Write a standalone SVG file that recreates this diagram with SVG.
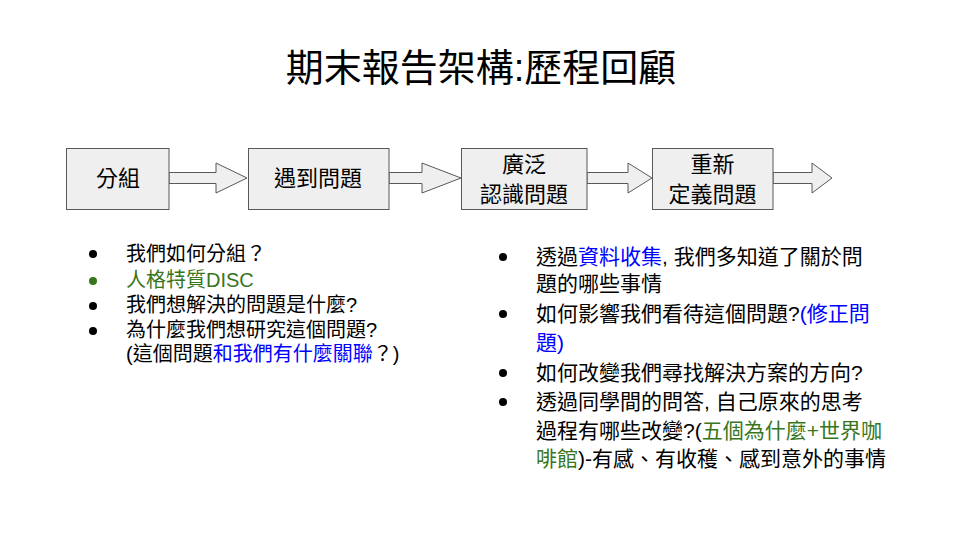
<svg xmlns="http://www.w3.org/2000/svg" width="960" height="540" viewBox="0 0 960 540">
<style>
text{font-family:"Liberation Sans","Noto Sans CJK TC",sans-serif;fill:#000}
.box{fill:#efefef;stroke:#595959;stroke-width:1}
.arr{fill:#efefef;stroke:#595959;stroke-width:1;stroke-linejoin:miter}
.bt{font-size:22px;text-anchor:middle}
.l{font-size:20px}
.r{font-size:21px}
.g{fill:#38761d}
.b{fill:#0000ff}
.dot{fill:#000}
</style>
<rect width="960" height="540" fill="#fff"/>
<text x="481" y="81" font-size="38" text-anchor="middle">期末報告架構:歷程回顧</text>
<g id="connectors">
<polygon class="arr" points="169,172.5 216,172.5 216,163 247,178 216,193 216,183.5 169,183.5"/>
<polygon class="arr" points="389,172.5 422,172.5 422,163 461,178 422,193 422,183.5 389,183.5"/>
<polygon class="arr" points="587,172.5 628,172.5 628,163 652,178 628,193 628,183.5 587,183.5"/>
<polygon class="arr" points="773,172.5 812,172.5 812,163 832,178 812,193 812,183.5 773,183.5"/>
</g>
<g id="n1"><rect class="box" x="66.5" y="148.5" width="102.5" height="61"/><text class="bt" x="118" y="186">分組</text></g>
<g id="n2"><rect class="box" x="248.5" y="148.5" width="140.5" height="61"/><text class="bt" x="318" y="186">遇到問題</text></g>
<g id="n3"><rect class="box" x="461.5" y="148.5" width="125.5" height="61"/><text class="bt" x="524" y="172">廣泛</text><text class="bt" x="524" y="202">認識問題</text></g>
<g id="n4"><rect class="box" x="652.5" y="148.5" width="120.5" height="61"/><text class="bt" x="712.5" y="172">重新</text><text class="bt" x="712.5" y="202">定義問題</text></g>
<g id="left">
<circle class="dot" cx="93" cy="254" r="4"/>
<text class="l" x="126" y="261">我們如何分組？</text>
<circle cx="93" cy="281" r="4" fill="#38761d"/>
<text class="l g" x="126" y="287">人格特質DISC</text>
<circle class="dot" cx="93" cy="306" r="4"/>
<text class="l" x="126" y="312">我們想解決的問題是什麼?</text>
<circle class="dot" cx="93" cy="331" r="4"/>
<text class="l" x="126" y="337">為什麼我們想研究這個問題?</text>
<text class="l" x="126" y="361">(這個問題<tspan class="b">和我們有什麼關聯</tspan>？)</text>
</g>
<g id="right">
<circle class="dot" cx="503" cy="257" r="4"/>
<text class="r" x="536" y="264">透過<tspan class="b">資料收集</tspan>, 我們多知道了關於問</text>
<text class="r" x="536" y="291">題的哪些事情</text>
<circle class="dot" cx="503" cy="314" r="4"/>
<text class="r" x="536" y="321">如何影響我們看待這個問題?<tspan class="b">(修正問</tspan></text>
<text class="r b" x="536" y="350">題)</text>
<circle class="dot" cx="503" cy="373" r="4"/>
<text class="r" x="536" y="380">如何改變我們尋找解決方案的方向?</text>
<circle class="dot" cx="503" cy="402" r="4"/>
<text class="r" x="536" y="409">透過同學間的問答, 自己原來的思考</text>
<text class="r" x="536" y="438">過程有哪些改變?(<tspan class="g">五個為什麼+世界咖</tspan></text>
<text class="r" x="536" y="466"><tspan class="g">啡館</tspan>)-有感、有收穫、感到意外的事情</text>
</g>
</svg>
